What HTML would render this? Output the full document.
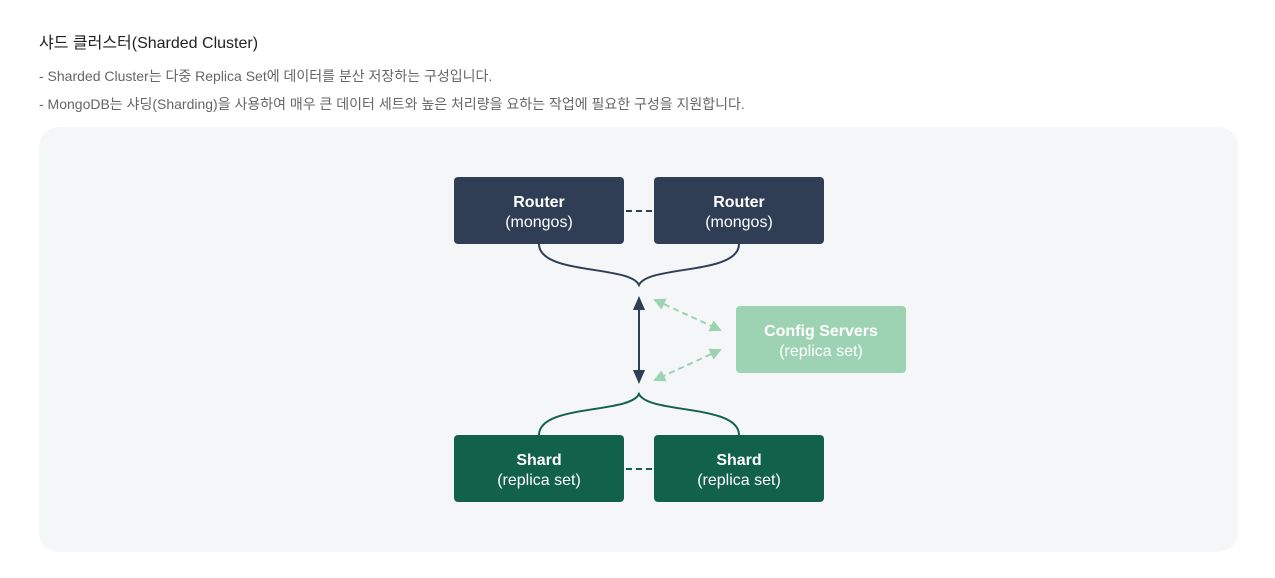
<!DOCTYPE html>
<html><head><meta charset="utf-8"><style>
body{margin:0;width:1275px;height:578px;background:#fff;font-family:"Liberation Sans","Noto Sans CJK KR",sans-serif;position:relative;overflow:hidden}
.t{position:absolute;left:39px;top:29px;font-size:16px;color:#222}
.b{position:absolute;left:39px;font-size:14px;color:#666}
.box{position:absolute;left:39px;top:127px;width:1199px;height:425px;background:#f5f6f8;border-radius:20px}
svg{position:absolute;left:0;top:0}
</style></head><body>
<div class="t">샤드 클러스터(Sharded Cluster)</div>
<div class="b" style="top:66px">- Sharded Cluster는 다중 Replica Set에 데이터를 분산 저장하는 구성입니다.</div>
<div class="b" style="top:94px">- MongoDB는 샤딩(Sharding)을 사용하여 매우 큰 데이터 세트와 높은 처리량을 요하는 작업에 필요한 구성을 지원합니다.</div>
<div class="box"></div>
<svg width="1275" height="578" font-family="Liberation Sans, sans-serif" text-anchor="middle">
<defs>
<marker id="ad" markerWidth="8" markerHeight="8" refX="6" refY="4" orient="auto-start-reverse" markerUnits="userSpaceOnUse"><path d="M0,0 L8,4 L0,8z" fill="#2f3d55"/></marker>
<marker id="ag" markerWidth="12" markerHeight="12" refX="10" refY="6" orient="auto-start-reverse" markerUnits="userSpaceOnUse"><path d="M0,0 L12,6 L0,12z" fill="#9dd3b3"/></marker>
</defs>
<rect x="454" y="177" width="170" height="67" rx="4" fill="#2f3d55"/>
<rect x="654" y="177" width="170" height="67" rx="4" fill="#2f3d55"/>
<rect x="454" y="435" width="170" height="67" rx="4" fill="#12614a"/>
<rect x="654" y="435" width="170" height="67" rx="4" fill="#12614a"/>
<rect x="736" y="306" width="170" height="67" rx="4" fill="#9dd3b3"/>
<line x1="626" y1="211" x2="652" y2="211" stroke="#2f3d55" stroke-width="2" stroke-dasharray="6,4"/>
<line x1="626" y1="469" x2="652" y2="469" stroke="#12614a" stroke-width="2" stroke-dasharray="6,4"/>
<path d="M539,244 C539,275 630,265 639,285 C648,265 739,275 739,244" fill="none" stroke="#2f3d55" stroke-width="2"/>
<path d="M539,435 C539,404 630,414 639,394 C648,414 739,404 739,435" fill="none" stroke="#12614a" stroke-width="2"/>
<line x1="639" y1="300" x2="639" y2="380" stroke="#2f3d55" stroke-width="2"/>
<path d="M639,296 L633,310 L645,310z M639,384 L633,370 L645,370z" fill="#2f3d55"/>
<line x1="655" y1="300" x2="720" y2="330" stroke="#9dd3b3" stroke-width="2" stroke-dasharray="6,4" marker-start="url(#ag)" marker-end="url(#ag)"/>
<line x1="720" y1="350" x2="655" y2="380" stroke="#9dd3b3" stroke-width="2" stroke-dasharray="6,4" marker-start="url(#ag)" marker-end="url(#ag)"/>
<g font-size="16" fill="#fff">
<text x="539" y="207" font-weight="bold">Router</text><text x="539" y="227">(mongos)</text>
<text x="739" y="207" font-weight="bold">Router</text><text x="739" y="227">(mongos)</text>
<text x="539" y="465" font-weight="bold">Shard</text><text x="539" y="485">(replica set)</text>
<text x="739" y="465" font-weight="bold">Shard</text><text x="739" y="485">(replica set)</text>
<text x="821" y="336" font-weight="bold">Config Servers</text><text x="821" y="356">(replica set)</text>
</g>
</svg>
</body></html>
